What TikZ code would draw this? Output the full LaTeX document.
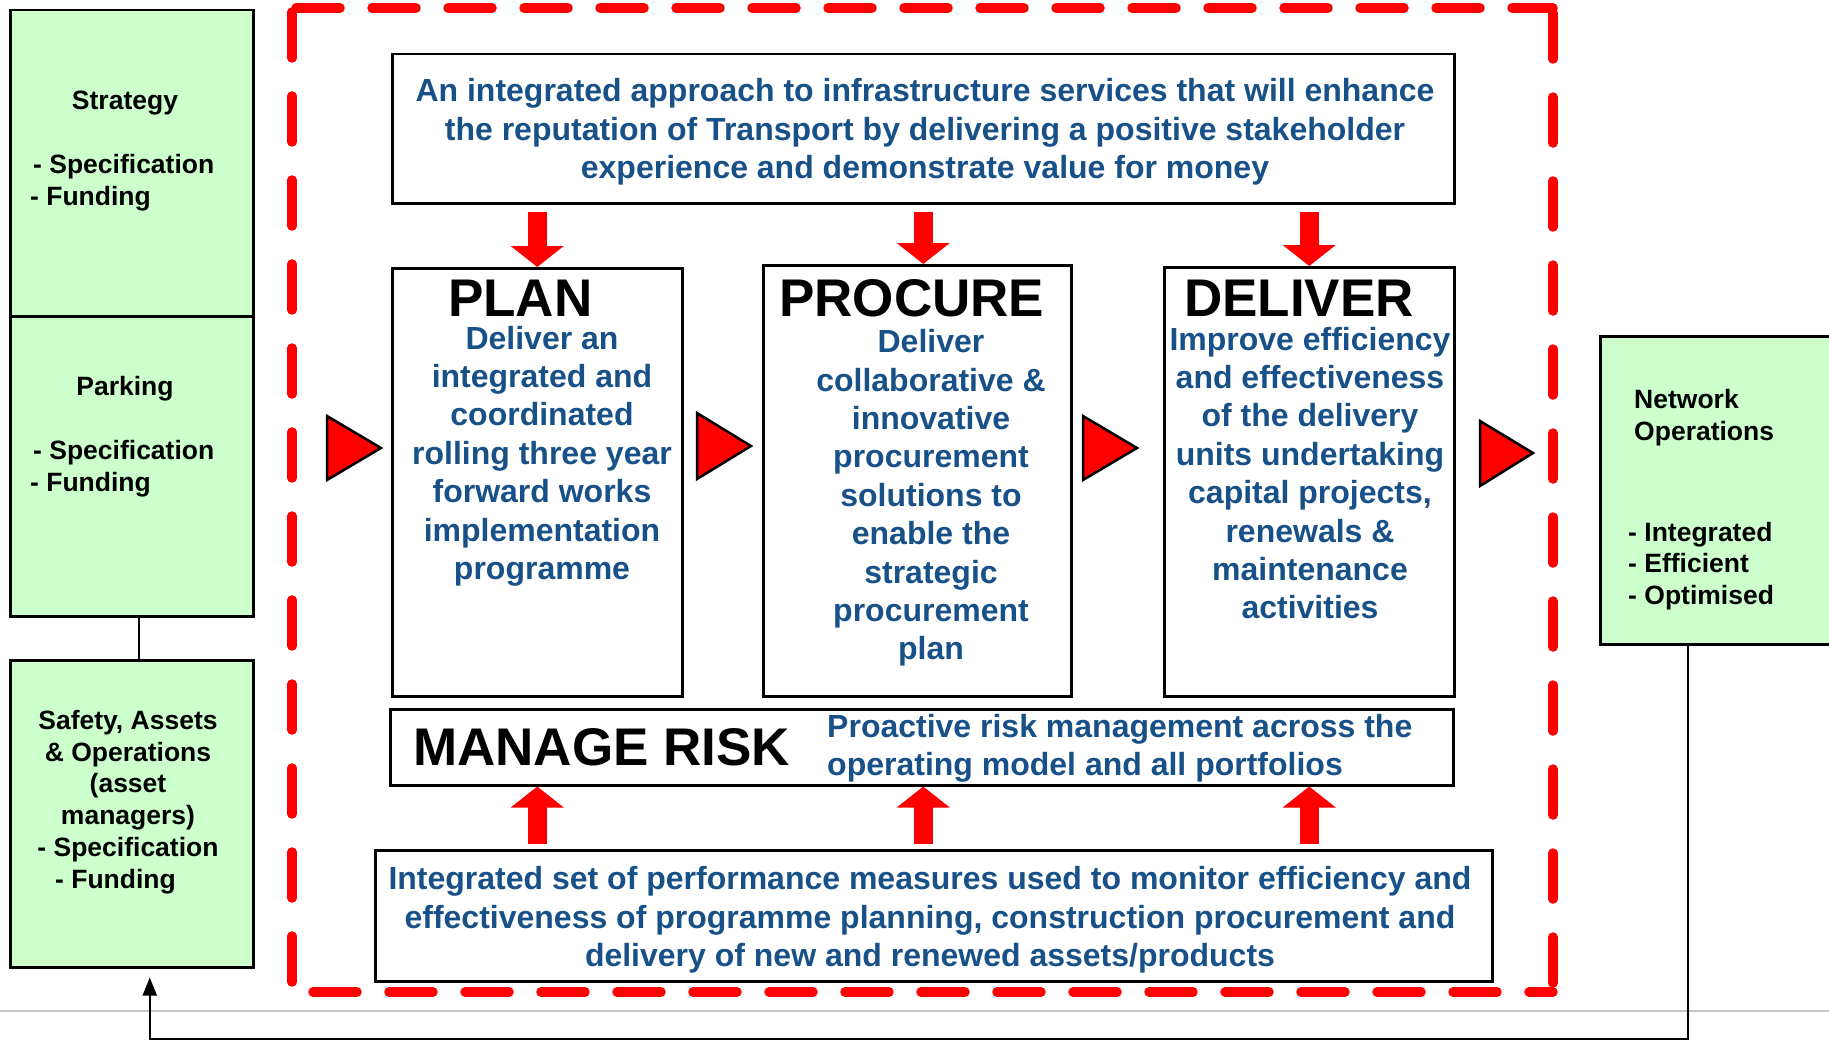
\documentclass[tikz,border=0pt]{standalone}
\usepackage{fontspec}
\setmainfont{Liberation Sans}
\usetikzlibrary{arrows.meta,calc}
\definecolor{txtblue}{HTML}{185088}
\definecolor{lgreen}{HTML}{CCFFCC}
\begin{document}
\begin{tikzpicture}[x=1pt,y=-1pt,
 box/.style={draw=black,line width=2.5pt,inner sep=0pt,anchor=north west},
 gbox/.style={box,fill=lgreen},
 btext/.style={text=txtblue,font=\bfseries\fontsize{32}{38.4}\selectfont,align=center,inner sep=0pt},
 gtext/.style={font=\bfseries\fontsize{26.5}{31.8}\selectfont,inner sep=0pt},
 head/.style={font=\bfseries\fontsize{53}{60}\selectfont,inner sep=0pt,anchor=west},
 tri/.style={draw=black,line width=2.5pt,fill=red,line join=miter},
 bigarrow/.style={draw=red,line width=19pt,-{Triangle[width=52pt,length=21pt]}},
 conn/.style={draw=black,line width=2pt},
 frameh/.style={red,line width=9.5pt,dash pattern=on 44pt off 32pt,line cap=round},
 framev/.style={red,line width=9.5pt,dash pattern=on 46pt off 38pt,line cap=round}]
\useasboundingbox (0,0) rectangle (1829,1041);
\clip (0,0) rectangle (1829,1041);
\fill[white] (0,0) rectangle (1829,1041);
\draw[gray!45,line width=1.5pt] (0,1011) -- (1829,1011);

% left green boxes
\node[gbox,minimum width=243pt,minimum height=306pt] (strategy) at (9,9) {};
\node[gbox,minimum width=243pt,minimum height=300pt] (parking) at (9,315) {};
\node[gbox,minimum width=243pt,minimum height=307pt] (safety) at (9,659) {};
\node[gbox,minimum width=260pt,minimum height=308pt] (netops) at (1599,335) {};

\node[gtext] (strt) at (125,103) {Strategy};
\node[gtext,align=left,anchor=west] (strl) at (30,183) {\hspace*{3pt}- Specification\\- Funding};
\node[gtext] (park) at (125,389) {Parking};
\node[gtext,align=left,anchor=west] (parl) at (30,469) {\hspace*{3pt}- Specification\\- Funding};
\node[gtext,align=center] (saft) at (128,802) {Safety, Assets\\\& Operations\\(asset\\managers)\\- Specification\\- Funding\hspace*{25pt}};
\node[gtext,align=left,anchor=west] (nett) at (1634,418) {Network\\Operations};
\node[gtext,align=left,anchor=west] (netl) at (1628,566) {- Integrated\\- Efficient\\- Optimised};

% red dashed frame
\draw[frameh] (296,8) -- (1553,8);
\draw[framev] (1553,13) -- (1553,992);
\draw[framev] (292,12) -- (292,988);
\draw[frameh] (313,992) -- (1553,992);

% central boxes
\node[box,minimum width=1062pt,minimum height=149pt] (mission) at (391,53) {};
\node[box,minimum width=290pt,minimum height=428pt] (plan) at (391,267) {};
\node[box,minimum width=308pt,minimum height=431pt] (procure) at (762,264) {};
\node[box,minimum width=290pt,minimum height=429pt] (deliver) at (1163,266) {};
\node[box,minimum width=1063pt,minimum height=76pt] (risk) at (389,708) {};
\node[box,minimum width=1117pt,minimum height=131pt] (measures) at (374,849) {};

\node[btext] (missiontxt) at (925,132) {An integrated approach to infrastructure services that will enhance\\the reputation of Transport by delivering a positive stakeholder\\experience and demonstrate value for money};
\node[head] (planh) at (448,298) {PLAN};
\node[head] (procureh) at (779,298) {PROCURE};
\node[head] (deliverh) at (1184,298) {DELIVER};
\node[btext] (plantxt) at (542,456) {Deliver an\\integrated and\\coordinated\\rolling three year\\forward works\\implementation\\programme};
\node[btext] (procuretxt) at (931,498) {Deliver\\collaborative \&\\innovative\\procurement\\solutions to\\enable the\\strategic\\procurement\\plan};
\node[btext] (delivertxt) at (1310,473) {Improve efficiency\\and effectiveness\\of the delivery\\units undertaking\\capital projects,\\renewals \&\\maintenance\\activities};
\node[head] (riskh) at (413,747) {MANAGE RISK};
\node[btext,align=left,anchor=west] (risktxt) at (827,748) {Proactive risk management across the\\operating model and all portfolios};
\node[btext] (measurestxt) at (930,920) {Integrated set of performance measures used to monitor efficiency and\\effectiveness of programme planning, construction procurement and\\delivery of new and renewed assets/products};

% triangles
\draw[tri] (327,416) -- (381,448) -- (327,480) -- cycle;
\draw[tri] (697,413) -- (751,446) -- (697,479) -- cycle;
\draw[tri] (1083,416) -- (1137,448) -- (1083,480) -- cycle;
\draw[tri] (1480,421) -- (1533,453) -- (1480,486) -- cycle;

% block arrows
\draw[bigarrow,shorten <=7pt] (plan.north |- mission.south) -- (plan.north);
\draw[bigarrow,shorten <=7pt] (mission.south) -- (mission.south |- procure.north);
\draw[bigarrow,shorten <=7pt] (deliver.north |- mission.south) -- (deliver.north);
\draw[bigarrow,shorten <=5pt] (plan.south |- measures.north) -- (plan.south |- risk.south);
\draw[bigarrow,shorten <=5pt] (mission.south |- measures.north) -- (mission.south |- risk.south);
\draw[bigarrow,shorten <=5pt] (deliver.south |- measures.north) -- (deliver.south |- risk.south);

% connectors
\draw[conn] ([xshift=7.5pt]parking.south) -- ([xshift=7.5pt]parking.south |- safety.north);
\coordinate (nb) at ([xshift=-42pt]netops.south);
\coordinate (sb) at ([xshift=18pt]safety.south);
\draw[conn,-{Triangle[width=14pt,length=18pt]},shorten >=9pt] (nb) -- (nb |- 0,1039) -- (sb |- 0,1039) -- (sb);
\end{tikzpicture}
\end{document}
